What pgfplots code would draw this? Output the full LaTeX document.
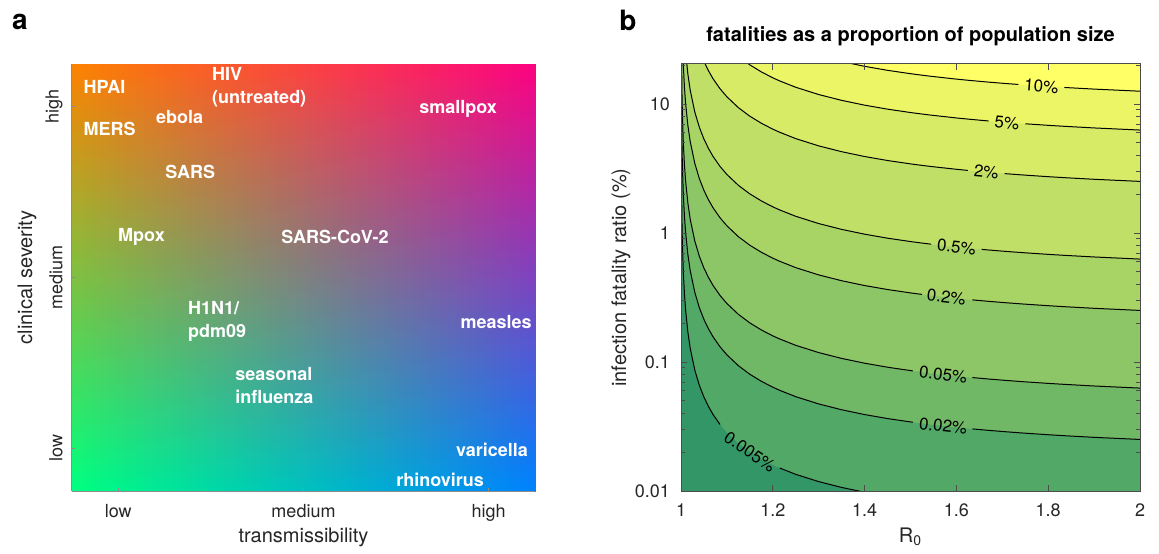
\documentclass[border=0pt]{standalone}
\usepackage{pgfplots}
\pgfplotsset{compat=1.18}
\usepackage{pgfplotstable}
\usepgfplotslibrary{patchplots}
\usepackage{fontspec}
\setmainfont{TeX Gyre Heros}
\definecolor{cTL}{RGB}{255,128,0}
\definecolor{cTR}{RGB}{255,0,128}
\definecolor{cBL}{RGB}{0,255,128}
\definecolor{cBR}{RGB}{0,128,255}
\definecolor{c0}{RGB}{51,150,102}
\definecolor{c1}{RGB}{82,168,102}
\definecolor{c2}{RGB}{113,184,102}
\definecolor{c3}{RGB}{140,198,102}
\definecolor{c4}{RGB}{168,212,102}
\definecolor{c5}{RGB}{191,223,102}
\definecolor{c6}{RGB}{216,235,102}
\definecolor{c7}{RGB}{236,245,102}
\definecolor{c8}{RGB}{255,255,102}
% final epidemic size z for each R0
\pgfplotstableread{
R z
1.0001 0.0002
1.0002 0.0004
1.0005 0.000999
1.001 0.001997
1.002 0.003989
1.003 0.005976
1.005 0.009933
1.0075 0.01485
1.01 0.01973
1.015 0.0294
1.02 0.0390
1.03 0.0577
1.04 0.0759
1.05 0.0937
1.06 0.1109
1.07 0.1279
1.085 0.1525
1.1 0.1761
1.125 0.2137
1.15 0.2490
1.175 0.2822
1.2 0.3137
1.215 0.3316
1.25 0.3714
1.3 0.4228
1.35 0.4691
1.4 0.5110
1.45 0.5489
1.5 0.5828
1.505 0.5861
1.525 0.5986
1.545 0.6108
1.6 0.6420
1.625 0.6551
1.635 0.6602
1.655 0.6701
1.67 0.6774
1.7 0.6912
1.705 0.6934
1.735 0.7064
1.75 0.7126
1.8 0.7324
1.835 0.7453
1.9 0.7673
2.0 0.7968
}\ztab
\newcommand{\lblfont}{\bfseries\fontsize{9}{11.5}\selectfont}
\newcommand{\cfont}{\fontsize{8.5}{9}\selectfont}
\begin{document}
\begin{tikzpicture}
\path[use as bounding box] (0,0) rectangle (579.5pt,276.5pt);
\node[font=\bfseries\fontsize{14}{14}\selectfont, inner sep=0pt] at (10pt,265.5pt) {a};
\node[font=\bfseries\fontsize{14}{14}\selectfont, inner sep=0pt] at (314pt,266.5pt) {b};
% ---------------- panel a ----------------
\begin{axis}[at={(36pt,31pt)}, anchor=south west, scale only axis,
  width=231.5pt, height=213.5pt,
  xmin=0, xmax=1, ymin=0, ymax=1,
  axis x line*=bottom, axis y line*=left,
  axis line style={-, black!45, line width=0.5pt},
  axis on top,
  xtick={0.1,0.5,0.9}, xticklabels={low,medium,high},
  ytick={0.1,0.5,0.9}, yticklabels={low,medium,high},
  tick align=inside, major tick length=1.5pt,
  every tick/.style={black!45},
  tick label style={font=\fontsize{9}{10}\selectfont, text=black!85},
  xticklabel style={yshift=-3pt},
  yticklabel style={rotate=90, anchor=south, inner ysep=4.5pt},
  xlabel={transmissibility}, ylabel={clinical severity},
  label style={font=\fontsize{10}{11}\selectfont, text=black!85},
  xlabel style={at={(axis description cs:0.5,-0.108)}, anchor=center},
  ylabel style={at={(axis description cs:-0.097,0.5)}, anchor=center},
]
\addplot[patch, patch type=bilinear, shader=interp, mesh/color input=explicit]
coordinates {
(0,0) [color=cBL]
(1,0) [color=cBR]
(1,1) [color=cTR]
(0,1) [color=cTL]
};
\begin{scope}[every node/.style={font=\lblfont, text=white, inner sep=0pt}]
\node[anchor=west] at (axis cs:0.024,0.946) {HPAI};
\node[anchor=west] at (axis cs:0.024,0.848) {MERS};
\node[anchor=west] at (axis cs:0.181,0.876) {ebola};
\node[anchor=west, align=left] at (axis cs:0.302,0.945) {HIV\\(untreated)};
\node at (axis cs:0.834,0.895) {smallpox};
\node[anchor=west] at (axis cs:0.201,0.747) {SARS};
\node[anchor=west] at (axis cs:0.099,0.595) {Mpox};
\node at (axis cs:0.568,0.595) {SARS-CoV-2};
\node[anchor=west, align=left] at (axis cs:0.250,0.398) {H1N1/\\pdm09};
\node at (axis cs:0.916,0.396) {measles};
\node[anchor=west, align=left] at (axis cs:0.352,0.247) {seasonal\\influenza};
\node at (axis cs:0.907,0.096) {varicella};
\node at (axis cs:0.795,0.026) {rhinovirus};
\end{scope}
\end{axis}
% ---------------- panel b ----------------
\begin{axis}[at={(340.5pt,31pt)}, anchor=south west, scale only axis,
  width=229.5pt, height=213.5pt,
  xmin=1, xmax=2, ymode=log, ymin=0.01, ymax=20.4,
  axis background/.style={fill=c0},
  axis on top,
  axis line style={black!70, line width=0.5pt},
  xtick={1,1.2,1.4,1.6,1.8,2}, xticklabels={1,1.2,1.4,1.6,1.8,2},
  ytick={0.01,0.1,1,10}, yticklabels={0.01,0.1,1,10},
  minor ytick={0.02,0.03,0.04,0.05,0.06,0.07,0.08,0.09,0.2,0.3,0.4,0.5,0.6,0.7,0.8,0.9,2,3,4,5,6,7,8,9,20},
  tick align=inside, major tick length=3pt, minor tick length=2pt,
  every tick/.style={black!70, line width=0.4pt},
  tick label style={font=\fontsize{9}{10}\selectfont, text=black!85},
  xticklabel style={yshift=-3pt},
  yticklabel style={xshift=-2pt},
  title={fatalities as a proportion of population size},
  title style={font=\bfseries\fontsize{10}{11}\selectfont, at={(axis description cs:0.5,1.0375)}, anchor=center},
  xlabel={R\textsubscript{0}}, ylabel={infection fatality ratio (\%)},
  label style={font=\fontsize{10}{11}\selectfont, text=black!85},
  xlabel style={at={(axis description cs:0.5,-0.108)}, anchor=center},
  ylabel style={at={(axis description cs:-0.1307,0.5)}, anchor=center},
]
% filled bands: region above each contour level
\addplot[draw=none, fill=c1] table[x=R, y expr=0.005/\thisrow{z}] {\ztab} -- (rel axis cs:1,1) -- (rel axis cs:0,1) -- cycle;
\addplot[draw=none, fill=c2] table[x=R, y expr=0.02/\thisrow{z}] {\ztab} -- (rel axis cs:1,1) -- (rel axis cs:0,1) -- cycle;
\addplot[draw=none, fill=c3] table[x=R, y expr=0.05/\thisrow{z}] {\ztab} -- (rel axis cs:1,1) -- (rel axis cs:0,1) -- cycle;
\addplot[draw=none, fill=c4] table[x=R, y expr=0.2/\thisrow{z}] {\ztab} -- (rel axis cs:1,1) -- (rel axis cs:0,1) -- cycle;
\addplot[draw=none, fill=c5] table[x=R, y expr=0.5/\thisrow{z}] {\ztab} -- (rel axis cs:1,1) -- (rel axis cs:0,1) -- cycle;
\addplot[draw=none, fill=c6] table[x=R, y expr=2/\thisrow{z}] {\ztab} -- (rel axis cs:1,1) -- (rel axis cs:0,1) -- cycle;
\addplot[draw=none, fill=c7] table[x=R, y expr=5/\thisrow{z}] {\ztab} -- (rel axis cs:1,1) -- (rel axis cs:0,1) -- cycle;
\addplot[draw=none, fill=c8] table[x=R, y expr=10/\thisrow{z}] {\ztab} -- (rel axis cs:1,1) -- (rel axis cs:0,1) -- cycle;
% contour lines, broken where labels sit
\pgfplotsset{cl/.style={black, line width=0.5pt}}
\addplot[cl, restrict x to domain=1:1.0851] table[x=R, y expr=0.005/\thisrow{z}] {\ztab};
\addplot[cl, restrict x to domain=1.2149:2.1] table[x=R, y expr=0.005/\thisrow{z}] {\ztab};
\addplot[cl, restrict x to domain=1:1.5051] table[x=R, y expr=0.02/\thisrow{z}] {\ztab};
\addplot[cl, restrict x to domain=1.6349:2.1] table[x=R, y expr=0.02/\thisrow{z}] {\ztab};
\addplot[cl, restrict x to domain=1:1.5051] table[x=R, y expr=0.05/\thisrow{z}] {\ztab};
\addplot[cl, restrict x to domain=1.6349:2.1] table[x=R, y expr=0.05/\thisrow{z}] {\ztab};
\addplot[cl, restrict x to domain=1:1.5251] table[x=R, y expr=0.2/\thisrow{z}] {\ztab};
\addplot[cl, restrict x to domain=1.6349:2.1] table[x=R, y expr=0.2/\thisrow{z}] {\ztab};
\addplot[cl, restrict x to domain=1:1.5451] table[x=R, y expr=0.5/\thisrow{z}] {\ztab};
\addplot[cl, restrict x to domain=1.6549:2.1] table[x=R, y expr=0.5/\thisrow{z}] {\ztab};
\addplot[cl, restrict x to domain=1:1.6251] table[x=R, y expr=2/\thisrow{z}] {\ztab};
\addplot[cl, restrict x to domain=1.7049:2.1] table[x=R, y expr=2/\thisrow{z}] {\ztab};
\addplot[cl, restrict x to domain=1:1.6701] table[x=R, y expr=5/\thisrow{z}] {\ztab};
\addplot[cl, restrict x to domain=1.7499:2.1] table[x=R, y expr=5/\thisrow{z}] {\ztab};
\addplot[cl, restrict x to domain=1:1.7351] table[x=R, y expr=10/\thisrow{z}] {\ztab};
\addplot[cl, restrict x to domain=1.8349:2.1] table[x=R, y expr=10/\thisrow{z}] {\ztab};
\begin{scope}[every node/.style={font=\cfont, text=black, inner sep=0pt}]
\node[rotate=-4.3] at (axis cs:1.785,13.76) {10\%};
\node[rotate=-4.9] at (axis cs:1.71,7.186) {5\%};
\node[rotate=-5.1] at (axis cs:1.665,2.963) {2\%};
\node[rotate=-5.9] at (axis cs:1.60,0.7788) {0.5\%};
\node[rotate=-6.2] at (axis cs:1.578,0.3177) {0.2\%};
\node[rotate=-6.3] at (axis cs:1.571,0.0799) {0.05\%};
\node[rotate=-6.3] at (axis cs:1.571,0.0320) {0.02\%};
\node[rotate=-34] at (axis cs:1.15,0.0201) {0.005\%};
\end{scope}
\end{axis}
\end{tikzpicture}
\end{document}
